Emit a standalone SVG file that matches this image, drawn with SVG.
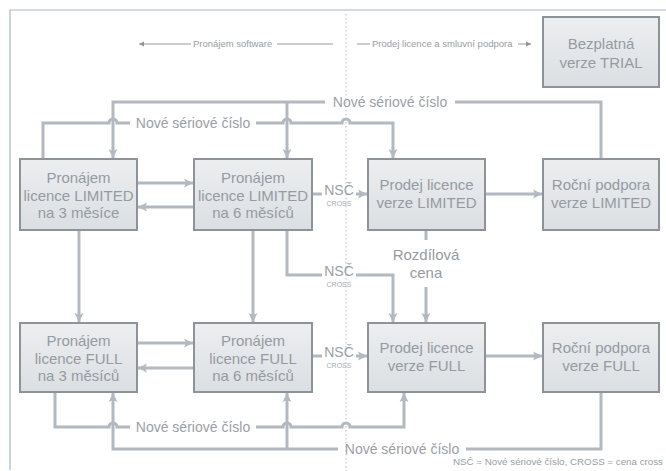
<svg xmlns="http://www.w3.org/2000/svg" width="666" height="471" viewBox="0 0 666 471">
<defs>
<linearGradient id="bx" x1="0" y1="0" x2="0" y2="1">
<stop offset="0" stop-color="#eceef0"/>
<stop offset="1" stop-color="#dcdfe2"/>
</linearGradient>
<marker id="ar" markerUnits="userSpaceOnUse" markerWidth="10" markerHeight="10" refX="9" refY="5" orient="auto">
<path d="M0,0.5 L9,5 L0,9.5 L2,5 z" fill="#b3b9c0"/>
</marker>
<marker id="ah" markerUnits="userSpaceOnUse" markerWidth="6" markerHeight="6" refX="5" refY="3" orient="auto">
<path d="M0,0.5 L5,3 L0,5.5 z" fill="#8e949a"/>
</marker>
<style>
.box{fill:url(#bx);stroke:#8e9399;stroke-width:2}
.bt{font-family:"Liberation Sans",Arial,sans-serif;font-size:15px;fill:#959ba2;text-anchor:middle}
.c{fill:none;stroke:#b3b9c0;stroke-width:3}
.ca{fill:none;stroke:#b3b9c0;stroke-width:3;marker-end:url(#ar)}
.lab{font-family:"Liberation Sans",Arial,sans-serif;font-size:14px;fill:#9aa0a6;text-anchor:middle}
.nsc{font-family:"Liberation Sans",Arial,sans-serif;font-size:14px;fill:#9aa0a6;text-anchor:middle}
.cr{font-family:"Liberation Sans",Arial,sans-serif;font-size:7px;fill:#a6acb2;text-anchor:middle}
.hd{font-family:"Liberation Sans",Arial,sans-serif;font-size:9.5px;fill:#979da3}
.hl{fill:none;stroke:#979da3;stroke-width:1}
</style>
</defs>
<rect width="666" height="471" fill="#ffffff"/>
<g id="frame">
<path d="M10,470 V10 H666" fill="none" stroke="#a9b7c5" stroke-width="1.2"/>
<path d="M346,14 V471" fill="none" stroke="#c4c8cc" stroke-width="1.2" stroke-dasharray="1.5 2.5"/>
</g>
<g id="header">
<path class="hl" d="M191,44 H139" marker-end="url(#ah)"/>
<text class="hd" x="193" y="47">Pronájem software</text>
<path class="hl" d="M277,44 H333"/>
<path class="hl" d="M357,44 H370"/>
<text class="hd" x="372" y="47">Prodej licence a smluvní podpora</text>
<path class="hl" d="M518,44 H531" marker-end="url(#ah)"/>
</g>
<g id="connectors">
<path class="c" d="M601,159 V102 H455"/>
<path class="ca" d="M325,102 H113 V158"/>
<path class="ca" d="M287,102 V158"/>
<path class="c" d="M43,159 V123 H109 a4,4 0 0 1 8,0 H130"/>
<path class="ca" d="M256,123 H283 a4,4 0 0 1 8,0 H342 a4,4 0 0 1 8,0 H393 V158"/>
<path class="ca" d="M137,183 H193"/>
<path class="ca" d="M194,207 H138"/>
<path class="c" d="M312,194 H322"/>
<path class="ca" d="M356,194 H367"/>
<path class="ca" d="M485,194 H542"/>
<path class="ca" d="M79,230 V322"/>
<path class="ca" d="M253,230 V322"/>
<path class="c" d="M287,230 V275 H322"/>
<path class="ca" d="M356,275 H393 V322"/>
<path class="c" d="M426,230 V240"/>
<path class="ca" d="M426,287 V322"/>
<path class="ca" d="M137,343 H193"/>
<path class="ca" d="M194,368 H138"/>
<path class="c" d="M312,356 H322"/>
<path class="ca" d="M356,356 H367"/>
<path class="ca" d="M485,356 H542"/>
<path class="c" d="M55,392 V427 H109 a4,4 0 0 1 8,0 H130"/>
<path class="ca" d="M256,427 H283 a4,4 0 0 1 8,0 H342 a4,4 0 0 1 8,0 H404 V393"/>
<path class="c" d="M601,392 V449 H466"/>
<path class="ca" d="M338,449 H113 V393"/>
<path class="ca" d="M287,449 V393"/>
<text class="lab" x="390" y="107">Nové sériové číslo</text>
<text class="lab" x="193" y="128">Nové sériové číslo</text>
<text class="lab" x="193" y="432">Nové sériové číslo</text>
<text class="lab" x="402" y="454">Nové sériové číslo</text>
<text class="nsc" x="339" y="195">NSČ</text>
<text class="cr" x="339" y="206">CROSS</text>
<text class="nsc" x="339" y="276">NSČ</text>
<text class="cr" x="339" y="287">CROSS</text>
<text class="nsc" x="339" y="357">NSČ</text>
<text class="cr" x="339" y="368">CROSS</text>
<text class="bt" x="426" y="260">Rozdílová</text>
<text class="bt" x="426" y="278">cena</text>
</g>
<g id="trial">
<rect class="box" x="543" y="17" width="116" height="70"/>
<text class="bt" x="601" y="49">Bezplatná</text>
<text class="bt" x="601" y="68">verze TRIAL</text>
</g>
<g id="n1">
<rect class="box" x="20" y="159" width="117" height="71"/>
<text class="bt" x="78.5" y="183">Pronájem</text>
<text class="bt" x="78.5" y="200.5">licence LIMITED</text>
<text class="bt" x="78.5" y="218">na 3 měsíce</text>
</g>
<g id="n2">
<rect class="box" x="194" y="159" width="118" height="71"/>
<text class="bt" x="253" y="183">Pronájem</text>
<text class="bt" x="253" y="200.5">licence LIMITED</text>
<text class="bt" x="253" y="218">na 6 měsíců</text>
</g>
<g id="n3">
<rect class="box" x="368" y="159" width="117" height="71"/>
<text class="bt" x="426.5" y="190">Prodej licence</text>
<text class="bt" x="426.5" y="208">verze LIMITED</text>
</g>
<g id="n4">
<rect class="box" x="543" y="159" width="116" height="71"/>
<text class="bt" x="601" y="190">Roční podpora</text>
<text class="bt" x="601" y="208">verze LIMITED</text>
</g>
<g id="n5">
<rect class="box" x="20" y="323" width="117" height="69"/>
<text class="bt" x="78.5" y="346">Pronájem</text>
<text class="bt" x="78.5" y="363.5">licence FULL</text>
<text class="bt" x="78.5" y="381">na 3 měsíců</text>
</g>
<g id="n6">
<rect class="box" x="194" y="323" width="118" height="69"/>
<text class="bt" x="253" y="346">Pronájem</text>
<text class="bt" x="253" y="363.5">licence FULL</text>
<text class="bt" x="253" y="381">na 6 měsíců</text>
</g>
<g id="n7">
<rect class="box" x="368" y="323" width="117" height="69"/>
<text class="bt" x="426.5" y="353">Prodej licence</text>
<text class="bt" x="426.5" y="371">verze FULL</text>
</g>
<g id="n8">
<rect class="box" x="543" y="323" width="116" height="69"/>
<text class="bt" x="601" y="353">Roční podpora</text>
<text class="bt" x="601" y="371">verze FULL</text>
</g>
<text class="hd" x="453" y="465" font-size="9" textLength="210" lengthAdjust="spacingAndGlyphs">NSČ = Nové sériové číslo, CROSS = cena cross</text>
</svg>
